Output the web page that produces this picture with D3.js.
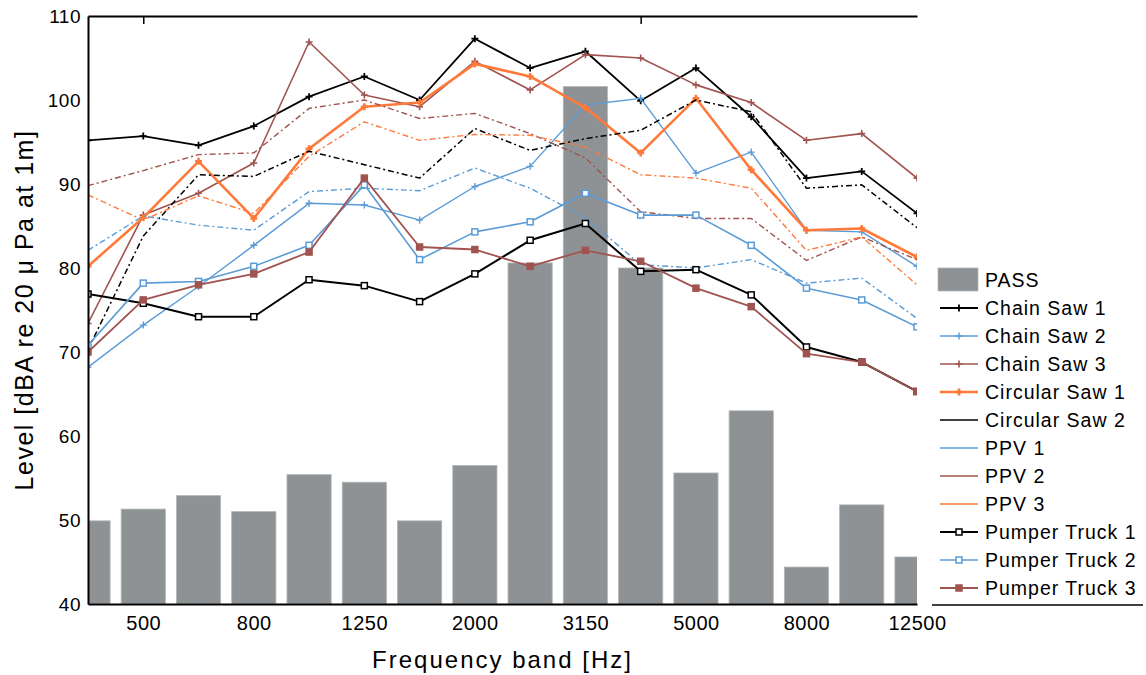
<!DOCTYPE html>
<html>
<head>
<meta charset="utf-8">
<script src="https://cdn.jsdelivr.net/npm/d3@7"></script>
<style>
    body { margin: 0; background: #fff; }
    svg text { font-family: "Liberation Sans", Arial, sans-serif; fill: #000; }
</style>
</head>
<body>
<div id="chart"></div>
<script>
// 1/3 octave bands, labelled every other one
const bands = ["400", "500", "630", "800", "1000", "1250", "1600", "2000", "2500", "3150", "4000", "5000", "6300", "8000", "10000", "12500"];
const tickBands = ["500", "800", "1250", "2000", "3150", "5000", "8000", "12500"];
const topTickBands = ["500", "4000"];
const yTicks = [40, 50, 60, 70, 80, 90, 100, 110];

// PASS bars
const pass = [49.9, 51.3, 52.9, 51.0, 55.4, 54.5, 49.9, 56.5, 80.6, 101.6, 80.0, 55.6, 63.0, 44.4, 51.8, 45.6];

// tool spectra [dBA]
const chainSaw1 = [95.2, 95.7, 94.6, 96.9, 100.4, 102.8, 100.0, 107.3, 103.8, 105.8, 99.9, 103.8, 98.0, 90.7, 91.5, 86.5];
const chainSaw2 = [68.2, 73.2, 77.8, 82.7, 87.7, 87.5, 85.7, 89.7, 92.1, 99.4, 100.2, 91.3, 93.8, 84.5, 84.3, 80.2];
const chainSaw3 = [73.4, 86.3, 88.9, 92.5, 106.9, 100.6, 99.2, 104.6, 101.2, 105.4, 105.0, 101.8, 99.7, 95.2, 96.0, 90.7];
const circularSaw1 = [80.2, 86.0, 92.7, 85.9, 94.2, 99.2, 99.7, 104.3, 102.8, 99.1, 93.7, 100.2, 91.7, 84.5, 84.7, 81.3];
const circularSaw2 = [70.3, 83.8, 91.1, 90.9, 93.9, 92.3, 90.7, 96.6, 94.0, 95.4, 96.4, 100.0, 98.6, 89.5, 89.9, 84.8];
const ppv1 = [82.1, 86.2, 85.1, 84.5, 89.1, 89.5, 89.2, 91.9, 89.5, 86.0, 80.4, 80.0, 81.0, 78.2, 78.8, 74.0];
const ppv2 = [89.8, 91.6, 93.5, 93.7, 99.0, 100.0, 97.8, 98.4, 96.0, 93.1, 86.7, 85.9, 85.9, 80.9, 83.7, 81.0];
const ppv3 = [88.7, 85.7, 88.6, 86.5, 93.3, 97.4, 95.2, 95.9, 95.8, 94.4, 91.1, 90.7, 89.5, 82.1, 83.7, 78.0];
const pumperTruck1 = [76.9, 75.8, 74.2, 74.2, 78.6, 77.9, 76.0, 79.3, 83.3, 85.3, 79.6, 79.8, 76.8, 70.6, 68.8, 65.3];
const pumperTruck2 = [70.8, 78.2, 78.4, 80.2, 82.7, 89.9, 81.0, 84.3, 85.5, 88.9, 86.3, 86.3, 82.7, 77.6, 76.2, 73.0];
const pumperTruck3 = [70.0, 76.2, 78.0, 79.3, 81.9, 90.7, 82.5, 82.2, 80.2, 82.1, 80.8, 77.6, 75.4, 69.8, 68.8, 65.3];

// colors
const black = '#000000', blue = '#5b9bd5', brown = '#a0534f', orange = '#ff7a3a', grey = '#8e9295';
const dashed = '6,3,2,3';

let series = [
    { name: "Chain Saw 1", values: chainSaw1, color: black, width: 1.8, dash: null, marker: "plus" },
    { name: "Chain Saw 2", values: chainSaw2, color: blue, width: 1.4, dash: null, marker: "plus" },
    { name: "Chain Saw 3", values: chainSaw3, color: brown, width: 1.6, dash: null, marker: "plus" },
    { name: "Circular Saw 1", values: circularSaw1, color: orange, width: 2.6, dash: null, marker: "plus" },
    { name: "Circular Saw 2", values: circularSaw2, color: black, width: 1.5, dash: dashed, marker: null },
    { name: "PPV 1", values: ppv1, color: blue, width: 1.4, dash: dashed, marker: null },
    { name: "PPV 2", values: ppv2, color: brown, width: 1.4, dash: dashed, marker: null },
    { name: "PPV 3", values: ppv3, color: orange, width: 1.4, dash: dashed, marker: null },
    { name: "Pumper Truck 1", values: pumperTruck1, color: black, width: 2, dash: null, marker: "square" },
    { name: "Pumper Truck 2", values: pumperTruck2, color: blue, width: 1.6, dash: null, marker: "square" },
    { name: "Pumper Truck 3", values: pumperTruck3, color: brown, width: 1.8, dash: null, marker: "squareFilled" }
];

const width = 1146, height = 675;
const margin = { top: 16, right: 229, bottom: 71, left: 88 };

let svg = d3.select('#chart')
    .append('svg')
    .attr('width', width)
    .attr('height', height);

const x = d3.scalePoint()
    .domain(bands)
    .range([margin.left, width - margin.right]);

const y = d3.scaleLinear()
    .domain([40, 110])
    .range([height - margin.bottom, margin.top]);

const step = x.step();

svg.append('clipPath')
    .attr('id', 'plotClip')
    .append('rect')
    .attr('x', margin.left)
    .attr('y', margin.top)
    .attr('width', width - margin.right - margin.left)
    .attr('height', height - margin.bottom - margin.top);

// bars
svg.append('g')
    .attr('clip-path', 'url(#plotClip)')
    .selectAll('rect')
    .data(pass)
    .join('rect')
    .attr('x', (d, i) => x(bands[i]) - step * 0.4)
    .attr('y', d => y(d))
    .attr('width', step * 0.8)
    .attr('height', d => y(40) - y(d))
    .attr('fill', grey)
    .attr('stroke', '#b4b7b9')
    .attr('stroke-width', 0.8);

// lines
let line = d3.line()
    .x((d, i) => x(bands[i]))
    .y(d => y(d));

let drawMarkers = (g, s, points) => {
    if (s.marker === 'plus') {
        g.selectAll('path.mk')
            .data(points)
            .join('path')
            .attr('class', 'mk')
            .attr('d', p => `M${p[0] - 3.5},${p[1]}H${p[0] + 3.5}M${p[0]},${p[1] - 3.5}V${p[1] + 3.5}`)
            .attr('stroke', s.color)
            .attr('stroke-width', s.width);
    } else if (s.marker) {
        g.selectAll('rect.mk')
            .data(points)
            .join('rect')
            .attr('class', 'mk')
            .attr('x', p => p[0] - 3)
            .attr('y', p => p[1] - 3)
            .attr('width', 6)
            .attr('height', 6)
            .attr('fill', s.marker === 'squareFilled' ? s.color : '#fff')
            .attr('stroke', s.color)
            .attr('stroke-width', 1.5);
    }
};

let plot = svg.append('g').attr('clip-path', 'url(#plotClip)');

series.forEach(s => {
    let g = plot.append('g');
    g.append('path')
        .datum(s.values)
        .attr('d', line)
        .attr('fill', 'none')
        .attr('stroke', s.color)
        .attr('stroke-width', s.width)
        .attr('stroke-dasharray', s.dash)
        .attr('stroke-linejoin', 'round');
    drawMarkers(g, s, s.values.map((v, i) => [x(bands[i]), y(v)]));
});

// axes
svg.append('g')
    .attr('transform', `translate(${margin.left},0)`)
    .call(d3.axisLeft(y).tickValues(yTicks).tickSize(0).tickSizeOuter(0).tickPadding(7))
    .call(g => g.select('.domain').attr('stroke-width', 2))
    .selectAll('text')
    .attr('font-size', '19px')
    .attr('font-family', '"Liberation Sans", Arial, sans-serif')
    .style('letter-spacing', '0.5px');

svg.append('g')
    .attr('transform', `translate(0,${height - margin.bottom})`)
    .call(d3.axisBottom(x).tickValues(tickBands).tickSize(0).tickSizeOuter(0).tickPadding(12))
    .call(g => g.select('.domain').attr('stroke-width', 2))
    .selectAll('text')
    .attr('font-size', '20px')
    .attr('font-family', '"Liberation Sans", Arial, sans-serif')
    .style('letter-spacing', '0.5px');

svg.append('g')
    .attr('transform', `translate(0,${margin.top})`)
    .call(d3.axisTop(x).tickValues(topTickBands).tickSize(-8).tickSizeOuter(0).tickFormat(''))
    .call(g => g.select('.domain').attr('stroke-width', 2))
    .selectAll('line')
    .attr('stroke-width', 1.5);

// axis titles
svg.append('text')
    .attr('x', (margin.left + width - margin.right) / 2)
    .attr('y', 668)
    .attr('text-anchor', 'middle')
    .attr('font-size', '24px')
    .style('letter-spacing', '2px')
    .text('Frequency band [Hz]');

svg.append('text')
    .attr('transform', `translate(33,${(margin.top + height - margin.bottom) / 2}) rotate(-90)`)
    .attr('text-anchor', 'middle')
    .attr('font-size', '25px')
    .style('letter-spacing', '1.5px')
    .text('Level [dBA re 20 \u03BC Pa at 1m]');

// legend
const legendX = 940, legendY = 280, legendStep = 28;
let legend = svg.append('g');

legend.append('rect')
    .attr('x', legendX - 2)
    .attr('y', legendY - 12)
    .attr('width', 40)
    .attr('height', 23)
    .attr('fill', grey)
    .attr('stroke', '#b4b7b9')
    .attr('stroke-width', 0.8);

legend.append('text')
    .attr('x', 985)
    .attr('y', legendY)
    .attr('dy', '0.35em')
    .attr('font-size', '19.5px')
    .style('letter-spacing', '1px')
    .text('PASS');

series.forEach((s, i) => {
    let ly = legendY + legendStep * (i + 1);
    let g = legend.append('g');
    g.append('line')
        .attr('x1', legendX)
        .attr('x2', legendX + 38)
        .attr('y1', ly)
        .attr('y2', ly)
        .attr('stroke', s.color)
        .attr('stroke-width', s.width);
    drawMarkers(g, s, [[legendX + 19, ly]]);
    g.append('text')
        .attr('x', 985)
        .attr('y', ly)
        .attr('dy', '0.35em')
        .attr('font-size', '19.5px')
        .style('letter-spacing', '1px')
        .text(s.name);
});

legend.append('line')
    .attr('x1', 932)
    .attr('x2', 1143)
    .attr('y1', 605)
    .attr('y2', 605)
    .attr('stroke', black)
    .attr('stroke-width', 1.5);
</script>
</body>
</html>
